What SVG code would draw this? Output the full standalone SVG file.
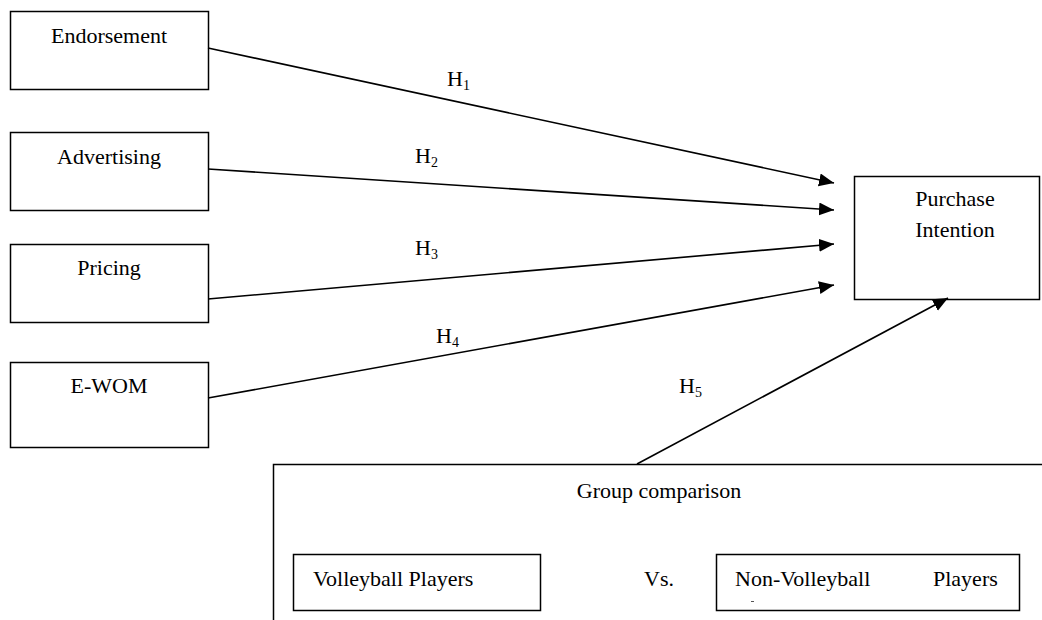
<svg xmlns="http://www.w3.org/2000/svg" width="1042" height="620" viewBox="0 0 1042 620">
<style>
.box{fill:#fff;stroke:#000;stroke-width:1.5}
.t{font-family:'Liberation Serif','Tinos','Times New Roman','DejaVu Serif',serif;font-size:22px;fill:#000}
.m{text-anchor:middle}
.c{stroke:#000;stroke-width:1.6;fill:none;marker-end:url(#ah)}
.sub{font-size:14px}
</style>
<defs>
<marker id="ah" markerUnits="userSpaceOnUse" markerWidth="16" markerHeight="14" refX="15" refY="6.5" orient="auto">
<path d="M0,0 L15,6.5 L0,13 z" fill="#000"/>
</marker>
</defs>
<rect width="1042" height="620" fill="#fff"/>
<g id="group-comparison">
<rect class="box" x="273.5" y="464.5" width="820" height="200"/>
<text class="t m" x="659" y="498" font-family="Liberation Serif, serif">Group comparison</text>
<text class="t" x="644" y="586" font-family="Liberation Serif, serif">Vs.</text>
</g>
<g id="volleyball-players">
<rect class="box" x="293.5" y="554.5" width="247" height="56"/>
<text class="t" x="313" y="586" font-family="Liberation Serif, serif">Volleyball Players</text>
</g>
<g id="non-volleyball-players">
<rect class="box" x="716.5" y="554.5" width="303" height="56"/>
<text class="t" x="735" y="586" font-family="Liberation Serif, serif">Non-Volleyball</text>
<text class="t" x="933" y="586" font-family="Liberation Serif, serif">Players</text>
<line x1="751" y1="601.5" x2="754" y2="601.5" stroke="#555" stroke-width="1"/>
</g>
<g id="endorsement">
<rect class="box" x="10.5" y="11.5" width="198" height="78"/>
<text class="t m" x="109" y="43" font-family="Liberation Serif, serif">Endorsement</text>
</g>
<g id="advertising">
<rect class="box" x="10.5" y="132.5" width="198" height="78"/>
<text class="t m" x="109" y="164" font-family="Liberation Serif, serif">Advertising</text>
</g>
<g id="pricing">
<rect class="box" x="10.5" y="244.5" width="198" height="78"/>
<text class="t m" x="109" y="275" font-family="Liberation Serif, serif">Pricing</text>
</g>
<g id="ewom">
<rect class="box" x="10.5" y="362.5" width="198" height="85"/>
<text class="t m" x="109" y="393" font-family="Liberation Serif, serif">E-WOM</text>
</g>
<g id="purchase-intention">
<rect class="box" x="854.5" y="176.5" width="185" height="123"/>
<text class="t m" x="955" y="206" font-family="Liberation Serif, serif">Purchase</text>
<text class="t m" x="955" y="237" font-family="Liberation Serif, serif">Intention</text>
</g>
<g id="connectors">
<line class="c" x1="208" y1="48" x2="834" y2="183"/>
<line class="c" x1="208" y1="169" x2="834" y2="210"/>
<line class="c" x1="208" y1="299" x2="834" y2="244"/>
<line class="c" x1="208" y1="398" x2="834" y2="285"/>
<line class="c" x1="637" y1="464" x2="948" y2="298"/>
<text class="t" x="447" y="86" font-family="Liberation Serif, serif">H<tspan class="sub" dy="4">1</tspan></text>
<text class="t" x="415" y="163" font-family="Liberation Serif, serif">H<tspan class="sub" dy="4">2</tspan></text>
<text class="t" x="415" y="255" font-family="Liberation Serif, serif">H<tspan class="sub" dy="4">3</tspan></text>
<text class="t" x="436" y="343" font-family="Liberation Serif, serif">H<tspan class="sub" dy="4">4</tspan></text>
<text class="t" x="679" y="393" font-family="Liberation Serif, serif">H<tspan class="sub" dy="4">5</tspan></text>
</g>
</svg>
